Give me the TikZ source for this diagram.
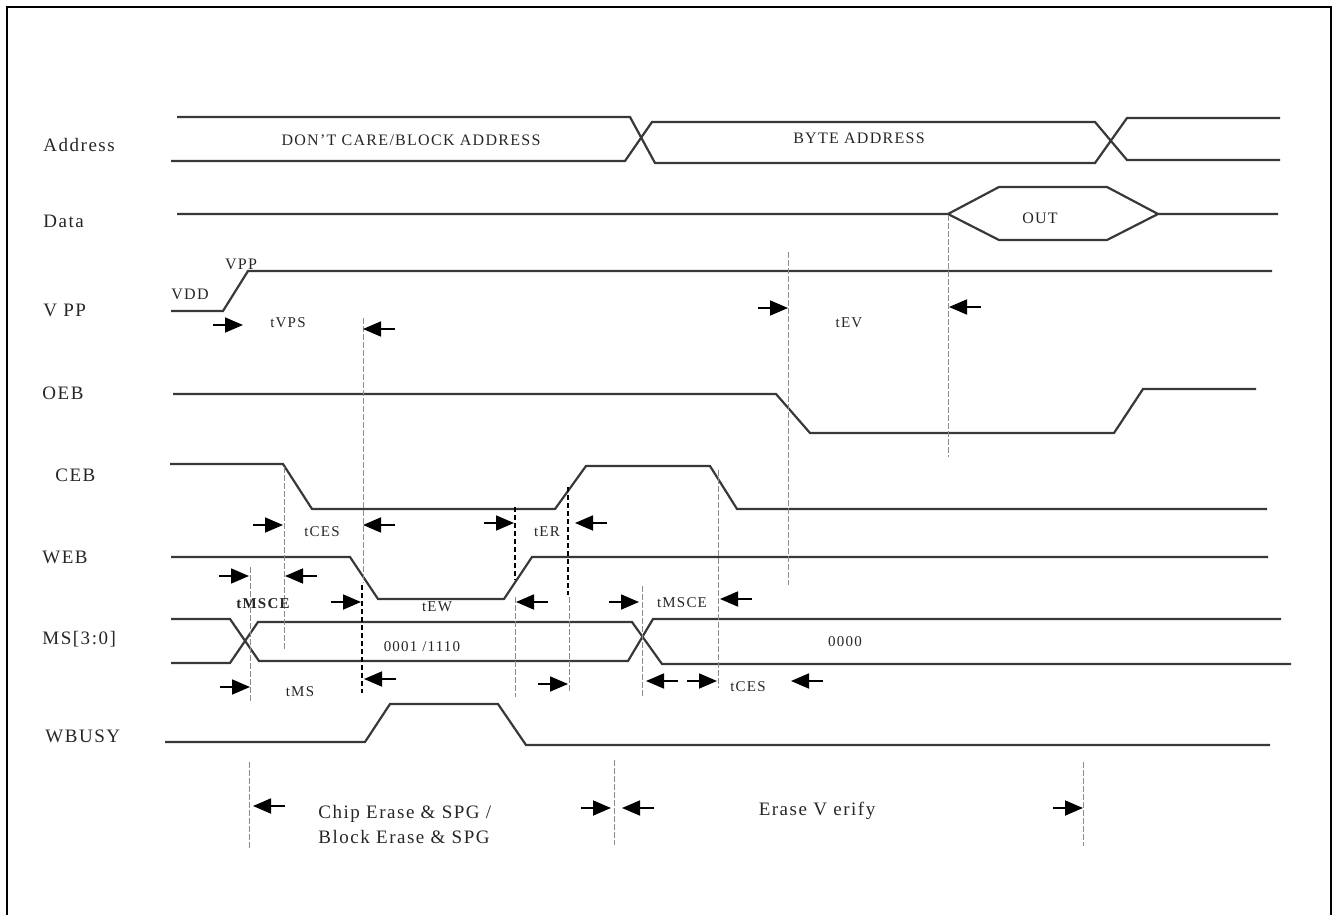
\documentclass[tikz,border=0pt]{standalone}
\usepackage{fontspec}
\setmainfont[LetterSpace=8]{Liberation Serif}
\usetikzlibrary{arrows.meta}
\newcommand\tdR[2]{\draw[tarr] (#1-30,#2) -- (#1,#2);}
\newcommand\tdL[2]{\draw[tarr] (#1+32,#2) -- (#1,#2);}
\begin{document}
\begin{tikzpicture}[x=0.5pt,y=-0.5pt,
  sig/.style={line width=1.1pt, draw=black!78, line join=miter},
  gdash/.style={line width=0.5pt, draw=black!45, dash pattern=on 3pt off 1pt},
  bdash/.style={line width=0.9pt, draw=black, dash pattern=on 2.5pt off 1.5pt},
  tarr/.style={line width=0.9pt, -{Triangle[length=9pt,width=7.5pt]}},
  lbl/.style={font=\fontsize{9.5}{11}\selectfont, anchor=west, inner sep=0pt, text=black!85},
  adr/.style={font=\fontsize{8}{10}\selectfont, inner sep=0pt, text=black!85},
  sml/.style={font=\fontsize{7.5}{9}\selectfont, inner sep=0pt, text=black!85},
  phs/.style={font=\fontsize{9.5}{12.5}\selectfont, inner sep=0pt, text=black!85},
]
\useasboundingbox (0,0) rectangle (1334,915);
\draw[line width=1.3pt] (7,915) -- (7,7) -- (1331,7) -- (1331,915);

% signal names
\node[lbl] (lAddr) at (43,145) {Address};
\node[lbl] (lData) at (43,221) {Data};
\node[lbl] (lVPP) at (43,310) {V PP};
\node[lbl] (lOEB) at (42,393) {OEB};
\node[lbl] (lCEB) at (55,475) {CEB};
\node[lbl] (lWEB) at (42,557) {WEB};
\node[lbl] (lMS) at (42,639) {MS[3:0]};
\node[lbl] (lWB) at (45,736) {WBUSY};

% Address
\draw[sig] (177,117) -- (630,117) -- (655,163) -- (1095,163) -- (1127,118) -- (1280,118);
\draw[sig] (171,161) -- (625,161) -- (652,122) -- (1095,122) -- (1127,160) -- (1280,160);
\node[adr] (tdc) at (411,140) {DON'T CARE/BLOCK ADDRESS};
\node[adr] (tba) at (859,138) {BYTE ADDRESS};

% Data
\draw[sig] (177,214) -- (948,214) -- (999,187) -- (1107,187) -- (1158,214) -- (1278,214);
\draw[sig] (948,214) -- (999,240) -- (1107,240) -- (1158,214);
\node[adr] (tout) at (1040,218) {OUT};

% VPP
\draw[sig] (171,311) -- (223,311) -- (248,271) -- (1272,271);
\node[adr] (tvdd) at (190,294) {VDD};
\node[adr] (tvpp) at (241,264) {VPP};

% OEB
\draw[sig] (173,394) -- (776,394) -- (810,433) -- (1114,433) -- (1143,389) -- (1256,389);

% CEB
\draw[sig] (170,464) -- (283,464) -- (312,509) -- (555,509) -- (586,466) -- (710,466) -- (737,509) -- (1267,509);

% WEB
\draw[sig] (171,557) -- (350,557) -- (378,599) -- (504,599) -- (532,557) -- (1268,557);

% MS[3:0]
\draw[sig] (171,619) -- (230,619) -- (259,661) -- (628,661) -- (653,619) -- (1281,619);
\draw[sig] (171,663) -- (230,663) -- (258,622) -- (632,622) -- (662,664) -- (1291,664);
\node[sml] (t0001) at (422,647) {0001 /1110};
\node[sml] (t0000) at (845,642) {0000};

% WBUSY
\draw[sig] (165,742) -- (365,742) -- (390,704) -- (498,704) -- (526,745) -- (1270,745);

% vertical reference lines
\draw[gdash] (250,567) -- (250,702);
\draw[gdash] (249,762) -- (249,848);
\draw[gdash] (284,467) -- (284,650);
\draw[gdash] (363,318) -- (363,583);
\draw[bdash] (362,585) -- (362,693);
\draw[bdash] (515,507) -- (515,580);
\draw[gdash] (515,597) -- (515,697);
\draw[bdash] (568,487) -- (568,595);
\draw[gdash] (569,597) -- (569,692);
\draw[gdash] (614,760) -- (614,845);
\draw[gdash] (642,586) -- (642,697);
\draw[gdash] (718,470) -- (718,688);
\draw[gdash] (788,252) -- (788,585);
\draw[gdash] (948,215) -- (948,457);
\draw[gdash] (1083,762) -- (1083,846);

% timing arrows
\tdR{243}{325} \tdL{363}{329}
\tdR{788}{308} \tdL{949}{307}
\tdR{283}{525} \tdL{363}{525}
\tdR{514}{523} \tdL{575}{523}
\tdR{249}{576} \tdL{285}{576}
\tdR{361}{602} \tdL{516}{602}
\tdR{639}{602} \tdL{720}{599}
\tdR{250}{687} \tdL{364}{679}
\tdR{568}{684} \tdL{646}{681} \tdR{717}{681} \tdL{791}{681}
\tdL{253}{806} \tdR{611}{808} \tdL{622}{808} \tdR{1083}{808}

% timing labels
\node[sml] (ttvps) at (288,323) {tVPS};
\node[sml] (ttev) at (849,323) {tEV};
\node[sml] (ttces) at (322,532) {tCES};
\node[sml] (tter) at (547,532) {tER};
\node[sml, font=\fontsize{7.5}{9}\selectfont\bfseries] (ttmsce) at (263,604) {tMSCE};
\node[sml] (ttew) at (437,607) {tEW};
\node[sml] (ttmsce2) at (682,603) {tMSCE};
\node[sml] (ttms) at (300,692) {tMS};
\node[sml] (ttces2) at (748,687) {tCES};

% phases
\node[phs, align=left, anchor=west] (pchip) at (318,824) {Chip Erase \& SPG /\\Block Erase \& SPG};
\node[phs] (pver) at (817,811) {Erase V erify};
\end{tikzpicture}
\end{document}
